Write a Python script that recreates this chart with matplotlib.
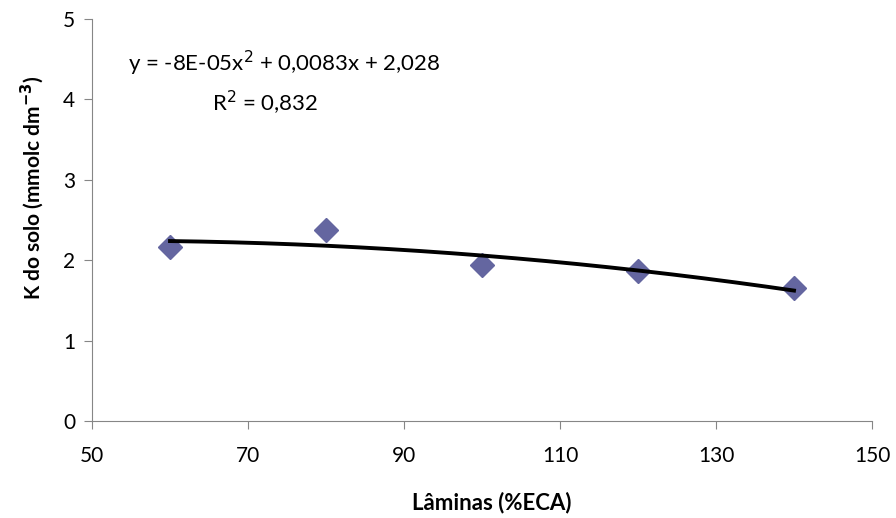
import numpy as np
import matplotlib.pyplot as plt

# data
laminas = [60, 80, 100, 120, 140]
k_solo = [2.17, 2.37, 1.94, 1.87, 1.65]

# trend line coefficients as printed on the chart
coef = [-8e-05, 0.0083, 2.028]
r2 = 0.832

x_ticks = [50, 70, 90, 110, 130, 150]
y_ticks = [0, 1, 2, 3, 4, 5]

plt.rcParams['font.family'] = ['Lato', 'DejaVu Sans']

fig = plt.figure(figsize=(8.96, 5.18), dpi=100)
ax = fig.add_axes([0.1027, 0.1873, 0.8705, 0.776])

ax.plot(laminas, k_solo, 'D', color='#6466a0', markersize=12, zorder=2)

xf = np.linspace(min(laminas), max(laminas), 200)
ax.plot(xf, np.polyval(coef, xf), '-', color='black', lw=2.8, zorder=3)

ax.set_xlim(50, 150)
ax.set_ylim(0, 5)
ax.set_xticks(x_ticks)
ax.set_yticks(y_ticks)
ax.tick_params(axis='both', labelsize=15, color='#868686', length=6)
ax.tick_params(axis='x', pad=12)
ax.tick_params(axis='y', pad=6)

for s in ['top', 'right']:
    ax.spines[s].set_visible(False)
for s in ['left', 'bottom']:
    ax.spines[s].set_color('#868686')

ax.set_xlabel('Lâminas (%ECA)', fontsize=16, fontweight='bold')
ax.set_ylabel('K do solo (mmolc dm$^{\\mathbf{-3}}$)', fontsize=15,
              fontweight='bold')
ax.xaxis.set_label_coords(0.513, -0.204)
ax.yaxis.set_label_coords(-0.077, 0.58)
ax.xaxis.label.set_va('center')
ax.yaxis.label.set_va('center')

ax.text(0.246, 0.89, 'y = -8E-05x$^2$ + 0,0083x + 2,028',
        transform=ax.transAxes, ha='center', va='center', fontsize=16)
ax.text(0.222, 0.79, 'R$^2$ = 0,832', transform=ax.transAxes,
        ha='center', va='center', fontsize=16)

fig.savefig('out.png', dpi=100)
